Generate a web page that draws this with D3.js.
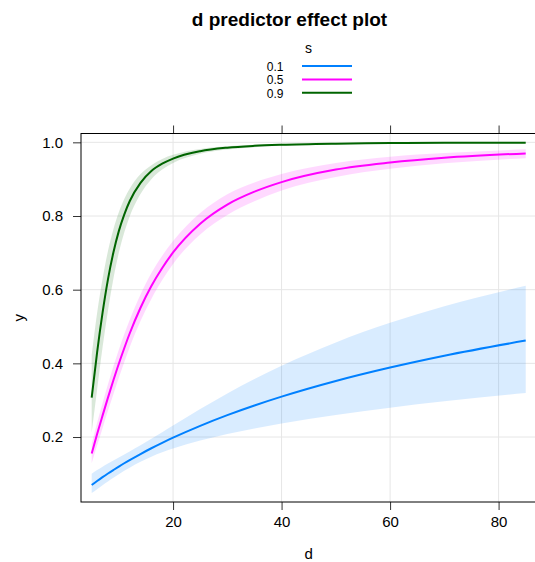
<!DOCTYPE html>
<html><head><meta charset="utf-8">
<script src="https://cdn.jsdelivr.net/npm/d3@7"></script>
<style>body{margin:0;background:#fff}svg{display:block;font-family:"Liberation Sans",Arial,sans-serif}</style>
</head><body><svg id="c" width="535" height="562"></svg>
<script>
// ---- data ----
const dValues = [5,6,7,8,9,10,11,12,14,16,18,20,25,30,35,40,50,60,70,85];
const sLevels = ["0.1","0.5","0.9"];
const fit01 = [0.0698,0.0807,0.0911,0.1010,0.1105,0.1198,0.1288,0.1374,0.1539,0.1695,0.1842,0.1982,0.2304,0.2594,0.2856,0.3096,0.3521,0.3886,0.4207,0.4618];
const lo01  = [0.0479,0.0585,0.0690,0.0792,0.0892,0.0990,0.1081,0.1169,0.1329,0.1466,0.1584,0.1687,0.1903,0.2081,0.2231,0.2365,0.2598,0.2797,0.2971,0.3195];
const hi01  = [0.1006,0.1103,0.1195,0.1280,0.1362,0.1444,0.1527,0.1609,0.1776,0.1952,0.2132,0.2313,0.2761,0.3184,0.3576,0.3936,0.4569,0.5100,0.5550,0.6106];
const fit05 = [0.155,0.208,0.258,0.307,0.354,0.399,0.441,0.481,0.551,0.610,0.659,0.701,0.779,0.831,0.866,0.892,0.926,0.945,0.958,0.970];
const lo05  = [0.129,0.177,0.224,0.271,0.316,0.361,0.403,0.444,0.515,0.575,0.626,0.670,0.750,0.803,0.840,0.869,0.906,0.928,0.943,0.957];
const hi05  = [0.181,0.239,0.292,0.343,0.392,0.437,0.479,0.518,0.587,0.645,0.692,0.732,0.808,0.859,0.891,0.914,0.944,0.961,0.971,0.981];
const fit09 = [0.307,0.430,0.537,0.628,0.701,0.759,0.804,0.840,0.890,0.922,0.942,0.956,0.976,0.9856,0.9906,0.9935,0.9965,0.9979,0.9986,0.9992];
const lo09  = [0.212,0.329,0.443,0.543,0.630,0.700,0.755,0.799,0.860,0.900,0.926,0.944,0.969,0.9806,0.9870,0.9907,0.9948,0.9967,0.9978,0.9986];
const hi09  = [0.423,0.537,0.629,0.705,0.764,0.810,0.846,0.874,0.914,0.938,0.955,0.966,0.982,0.9893,0.9932,0.9954,0.9976,0.9987,0.9992,0.9996];
const colors = ["#0080ff","#ff00ff","#006400"];
const xTicks = [20,40,60,80];
const yTicks = [0.2,0.4,0.6,0.8,1.0];
const title = "d predictor effect plot";
const xLabel = "d", yLabel = "y", legendTitle = "s";

const series = [
  {key:sLevels[0], fit:fit01, lo:lo01, hi:hi01, color:colors[0]},
  {key:sLevels[1], fit:fit05, lo:lo05, hi:hi05, color:colors[1]},
  {key:sLevels[2], fit:fit09, lo:lo09, hi:hi09, color:colors[2]}
];

const svg = d3.select("#c");
const L = 81, R = 536.4, T = 133.5, B = 502;
const x = d3.scaleLinear().domain([3.03, 86.97]).range([L, R]);
const y = d3.scaleLinear().domain([0.0236, 1.024]).range([B, T]);

// grid
const g = svg.append("g");
g.selectAll("line.gx").data(xTicks).join("line")
  .attr("x1", d=>x(d)).attr("x2", d=>x(d)).attr("y1", T).attr("y2", B)
  .attr("stroke", "#e6e6e6").attr("stroke-width", 1);
g.selectAll("line.gy").data(yTicks).join("line")
  .attr("y1", d=>y(d)).attr("y2", d=>y(d)).attr("x1", L).attr("x2", R)
  .attr("stroke", "#e6e6e6").attr("stroke-width", 1);

// bands
const area = d3.area().x((d,i)=>x(dValues[i])).y0(d=>y(d[0])).y1(d=>y(d[1])).curve(d3.curveMonotoneX);
const line = d3.line().x((d,i)=>x(dValues[i])).y(d=>y(d)).curve(d3.curveMonotoneX);
series.forEach(s => {
  svg.append("path").datum(s.lo.map((v,i)=>[v, s.hi[i]]))
    .attr("d", area).attr("fill", s.color).attr("fill-opacity", 0.15);
});
series.forEach(s => {
  svg.append("path").datum(s.fit).attr("d", line)
    .attr("fill", "none").attr("stroke", s.color).attr("stroke-width", 2);
});

// axes
const fmtY = d3.format(".1f");
const axB = svg.append("g").attr("transform", `translate(0,${B})`)
  .call(d3.axisBottom(x).tickValues(xTicks).tickSize(8).tickPadding(6).tickFormat(d3.format("d")));
const axT = svg.append("g").attr("transform", `translate(0,${T})`)
  .call(d3.axisTop(x).tickValues(xTicks).tickSize(8).tickFormat(""));
const axL = svg.append("g").attr("transform", `translate(${L},0)`)
  .call(d3.axisLeft(y).tickValues(yTicks).tickSize(8).tickPadding(10).tickFormat(fmtY));
[axB, axT, axL].forEach(a => {
  a.select(".domain").remove();
  a.selectAll(".tick line").attr("stroke", "#333");
  a.selectAll("text").attr("font-size", 15).attr("fill", "#000")
    .attr("font-family", '"Liberation Sans",Arial,sans-serif');
});
// box
svg.append("rect").attr("x", L).attr("y", T).attr("width", R-L).attr("height", B-T)
  .attr("fill", "none").attr("stroke", "#000").attr("stroke-width", 1);

// titles
svg.append("text").attr("x", 289.5).attr("y", 26).attr("text-anchor", "middle")
  .attr("font-weight", "bold").attr("font-size", 19).text(title);
svg.append("text").attr("x", (L+R)/2).attr("y", 559).attr("text-anchor", "middle")
  .attr("font-size", 15).text(xLabel);
svg.append("text").attr("transform", `translate(24,${(T+B)/2}) rotate(-90)`)
  .attr("text-anchor", "middle").attr("font-size", 15).text(yLabel);

// legend
svg.append("text").attr("x", 308.5).attr("y", 53).attr("text-anchor", "middle")
  .attr("font-size", 14).text(legendTitle);
const lg = svg.append("g");
series.forEach((s, i) => {
  const yy = 66 + i * 13.4;
  lg.append("text").attr("x", 283.5).attr("y", yy + 5).attr("text-anchor", "end")
    .attr("font-size", 12).text(s.key);
  lg.append("line").attr("x1", 302).attr("x2", 352).attr("y1", yy).attr("y2", yy)
    .attr("stroke", s.color).attr("stroke-width", 2);
});
</script></body></html>
